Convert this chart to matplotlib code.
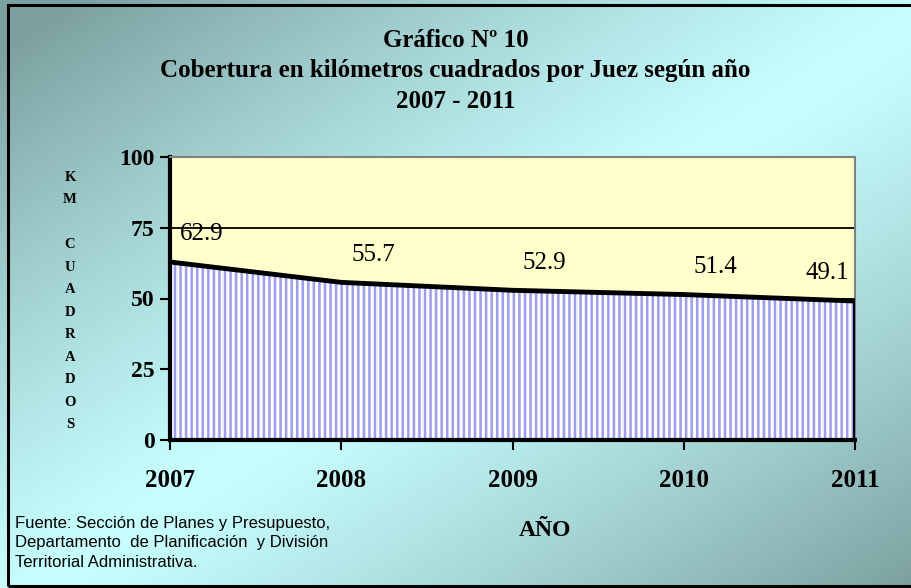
import numpy as np
import matplotlib.pyplot as plt

# data
years = [2007, 2008, 2009, 2010, 2011]
km2_por_juez = [62.9, 55.7, 52.9, 51.4, 49.1]
y_ticks = [0, 25, 50, 75, 100]

title = "Gráfico Nº 10\nCobertura en kilómetros cuadrados por Juez según año\n2007 - 2011"
fuente = ("Fuente: Sección de Planes y Presupuesto,\n"
          "Departamento  de Planificación  y División\n"
          "Territorial Administrativa.")

serif = ['Liberation Serif', 'DejaVu Serif']
sans = ['Liberation Sans', 'DejaVu Sans']

plt.rcParams['hatch.linewidth'] = 1.8

fig = plt.figure(figsize=(9.11, 5.88), dpi=100)

# background gradient: dark corners top-left / bottom-right, light cyan diagonal band
bg = fig.add_axes([0, 0, 1, 1], zorder=-10)
h, w = 588, 911
yy, xx = np.mgrid[0:h, 0:w]
t = (xx / w + yy / h) / 2.0
d = np.clip(np.abs(t - 0.52) * 2.1, 0, 1) ** 1.2
dark = np.array([0.49, 0.63, 0.63])
light = np.array([0.78, 1.0, 1.0])
img = light[None, None, :] * (1 - d[..., None]) + dark[None, None, :] * d[..., None]
bg.imshow(img, aspect='auto', extent=[0, 1, 0, 1], origin='upper')
bg.set_xlim(0, 1)
bg.set_ylim(0, 1)
bg.axis('off')
# outer frame
bg.add_patch(plt.Rectangle((0.009, 0.004), 0.995, 0.988, fill=False,
                           edgecolor='black', linewidth=2.2, transform=bg.transAxes))

ax = fig.add_axes([170 / 911, 1 - 440 / 588, (855 - 170) / 911, (440 - 157) / 588])
ax.set_facecolor('#ffffcc')

# gridlines
ax.set_yticks(y_ticks)
ax.yaxis.grid(True, color='black', linewidth=1.3)
ax.set_axisbelow(True)

# area with vertical hatch
ax.fill_between(years, km2_por_juez, 0, facecolor='white', edgecolor='#9a9aff',
                hatch='|||', linewidth=0, zorder=2)
ax.plot(years, km2_por_juez, color='black', linewidth=3.5, zorder=3,
        solid_capstyle='projecting')
ax.plot([years[-1], years[-1]], [0, km2_por_juez[-1]], color='black',
        linewidth=3.5, zorder=3)

# data labels
for i, (x, v) in enumerate(zip(years, km2_por_juez)):
    dx = -20 if i == len(years) - 1 else 23
    ax.annotate(f"{v:.1f}", (x, v), xytext=(dx, 20), textcoords='offset points',
                ha='center', va='center', fontsize=18, family=serif)

ax.set_xlim(years[0], years[-1])
ax.set_ylim(0, 100)
ax.set_xticks(years)
ax.set_xticklabels([str(y) for y in years])

for s in ['left', 'bottom']:
    ax.spines[s].set_linewidth(3)
    ax.spines[s].set_color('black')
for s in ['top', 'right']:
    ax.spines[s].set_linewidth(1.5)
    ax.spines[s].set_color('#808080')

ax.tick_params(axis='y', length=7, width=1.5, pad=4)
ax.tick_params(axis='x', length=7, width=1.5, pad=14)
for lab in ax.get_yticklabels():
    lab.set_fontfamily(serif)
    lab.set_fontweight('bold')
    lab.set_fontsize(17)
for lab in ax.get_xticklabels():
    lab.set_fontfamily(serif)
    lab.set_fontweight('bold')
    lab.set_fontsize(18)

# titles and labels
fig.text(0.5, 1 - 71 / 588, title, ha='center', va='center', fontsize=18,
         fontweight='bold', family=serif, linespacing=1.4)
fig.text(70 / 911, 1 - 301 / 588, "K\nM\n\nC\nU\nA\nD\nR\nA\nD\nO\nS",
         ha='center', va='center', fontsize=10.5, fontweight='bold', family=serif,
         linespacing=1.95)
fig.text(545 / 911, 1 - 530 / 588, "AÑO", ha='center', va='center', fontsize=17,
         fontweight='bold', family=serif)
fig.text(15 / 911, 1 - 543 / 588, fuente, ha='left', va='center', fontsize=12,
         family=sans, linespacing=1.38)

fig.savefig('out.png', dpi=100)
